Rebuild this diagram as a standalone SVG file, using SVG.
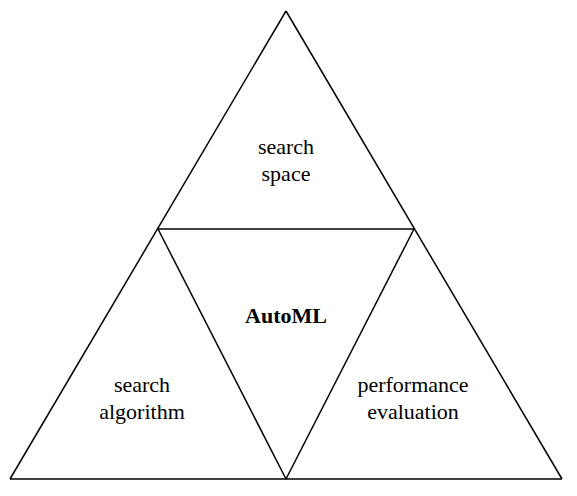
<svg xmlns="http://www.w3.org/2000/svg" width="577" height="496" viewBox="0 0 577 496">
<style>
.e{fill:none;stroke:#000;stroke-width:1.5;stroke-linejoin:miter}
.t{font-family:"Liberation Serif","Times New Roman",serif;font-size:22px;text-anchor:middle;fill:#000}
.b{font-weight:bold}
</style>
<rect width="577" height="496" fill="#fff"/>
<g id="connectors">
<line class="e" x1="286" y1="11" x2="10" y2="479"/>
<line class="e" x1="286" y1="11" x2="562" y2="479"/>
<line class="e" x1="10" y1="479" x2="562" y2="479"/>
<line class="e" x1="158" y1="229" x2="414" y2="229"/>
<line class="e" x1="158" y1="229" x2="286" y2="479"/>
<line class="e" x1="414" y1="229" x2="286" y2="479"/>
</g>
<g id="search-space"><text class="t" x="286" y="154">search</text><text class="t" x="286" y="181">space</text></g>
<g id="automl"><text class="t b" x="286" y="323">AutoML</text></g>
<g id="search-algorithm"><text class="t" x="142" y="392">search</text><text class="t" x="142" y="419">algorithm</text></g>
<g id="performance-evaluation"><text class="t" x="413" y="392">performance</text><text class="t" x="413" y="419">evaluation</text></g>
</svg>
